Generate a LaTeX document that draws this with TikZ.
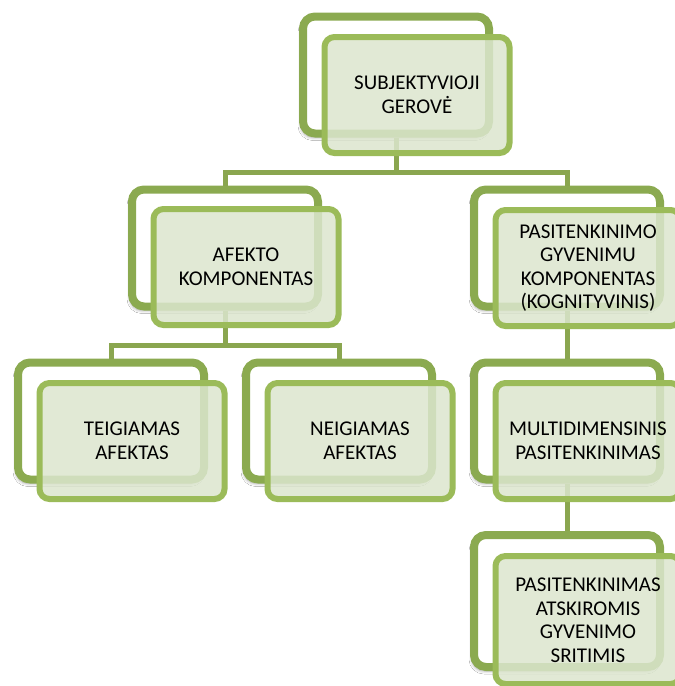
\documentclass[tikz,border=0pt]{standalone}
\usepackage{fontspec}
\setmainfont{Carlito}
\usetikzlibrary{shadows.blur}
\definecolor{backline}{HTML}{8BAA50}
\definecolor{frontline}{HTML}{9BBB59}
\definecolor{frontfill}{HTML}{DCE6CE}
\definecolor{linkcol}{HTML}{8AA64F}
\begin{document}
\begin{tikzpicture}[x=1pt,y=-1pt,
  backbox/.style={draw=backline, line width=8pt, fill=white, rounded corners=12pt,
    minimum width=186pt, minimum height=117pt, inner sep=0pt,
    blur shadow={shadow xshift=-2pt, shadow yshift=-4pt, shadow opacity=35, shadow blur radius=3pt}},
  frontbox/.style={draw=frontline, line width=6pt, fill=frontfill, fill opacity=0.85, text opacity=1,
    rounded corners=10pt, minimum width=185pt, minimum height=116pt, inner sep=0pt,
    align=center, text width=180pt, font=\fontsize{21}{23.5}\selectfont},
  link/.style={draw=linkcol, line width=5pt}]
\useasboundingbox (0,0) rectangle (675,686);
\fill[white] (0,0) rectangle (675,686);
% back boxes
\node[backbox] (topb) at (396,75) {};
\node[backbox] (lmb) at (225,248) {};
\node[backbox] (rmb) at (567,248) {};
\node[backbox] (blb) at (111,421) {};
\node[backbox] (bmb) at (339,421) {};
\node[backbox] (r3b) at (567,421) {};
\node[backbox, minimum height=132pt] (r4b) at (567,601) {};
% connectors
\coordinate (bus1) at (0,172);
\coordinate (bus2) at (0,345);
\draw[link] (topb.south) -- (topb.south |- bus1) -| (lmb.north);
\draw[link] (topb.south |- bus1) -| (rmb.north);
\draw[link] (lmb.south) -- (lmb.south |- bus2) -| (blb.north);
\draw[link] (lmb.south |- bus2) -| (bmb.north);
\draw[link] (rmb.south) -- (r3b.north);
\draw[link] (r3b.south) -- (r4b.north);
% front boxes
\node[frontbox] (topf) at (417,95) {SUBJEKTYVIOJI\\GEROVĖ};
\node[frontbox] (lmf) at (246,267) {AFEKTO\\KOMPONENTAS};
\node[frontbox] (rmf) at (588,268) {PASITENKINIMO\\GYVENIMU\\KOMPONENTAS\\(KOGNITYVINIS)};
\node[frontbox] (blf) at (132,441) {TEIGIAMAS\\AFEKTAS};
\node[frontbox] (bmf) at (360,441) {NEIGIAMAS\\AFEKTAS};
\node[frontbox] (r3f) at (588,441) {MULTIDIMENSINIS\\PASITENKINIMAS};
\node[frontbox, minimum height=128pt] (r4f) at (588,620) {PASITENKINIMAS\\ATSKIROMIS\\GYVENIMO\\SRITIMIS};
\end{tikzpicture}
\end{document}
